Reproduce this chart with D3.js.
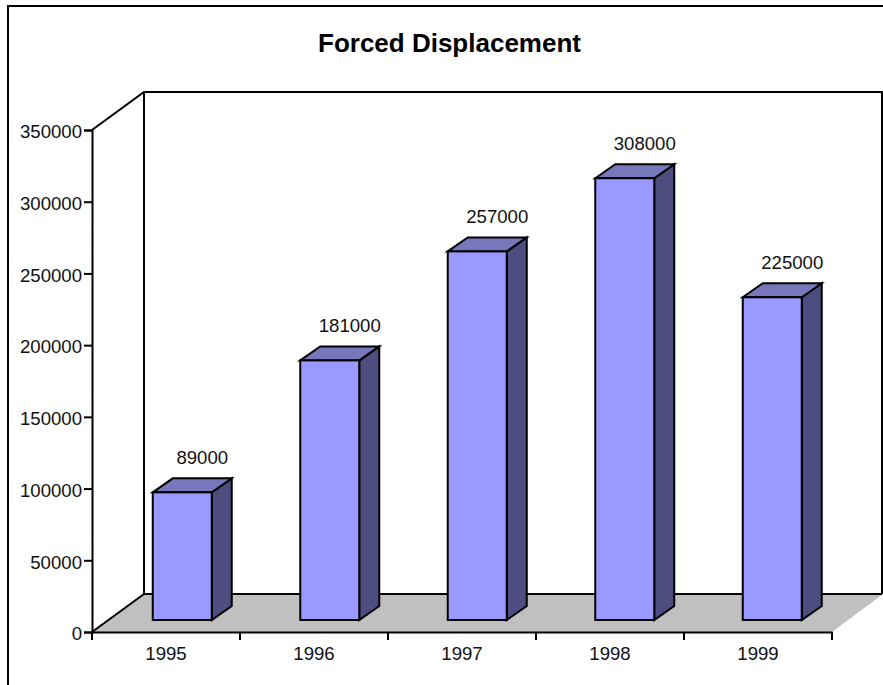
<!DOCTYPE html>
<html><head><meta charset="utf-8">
<script src="https://cdn.jsdelivr.net/npm/d3@7/dist/d3.min.js"></script>
<style>html,body{margin:0;padding:0;background:#fff;overflow:hidden}svg{display:block}
text{font-family:"Liberation Sans",Arial,sans-serif;fill:#111}</style></head><body>
<svg id="c" width="883" height="685"></svg>
<script>
const chartTitle = "Forced Displacement";
const years = ["1995","1996","1997","1998","1999"];
const displaced = [89000,181000,257000,308000,225000];
const yTicks = [0,50000,100000,150000,200000,250000,300000,350000];

const svg = d3.select("#c");
const L=92,R=832,B=632,T=130,DX=52,DY=38;   // front plane + floor depth
const BDX=20,BDY=14,BASE=12;                // bar depth + inset
const FS=18.6;
const y = d3.scaleLinear().domain([0,350000]).range([B,T]);
const x = d3.scaleBand().domain(years).range([L,R]);
const bx = d3.scaleBand().domain(years).range([108.5,846]).paddingInner(0.6).paddingOuter(0.3);
const line = d3.line();
function path(pts,fill,stroke=true){
  const p = svg.append("path").attr("d",line(pts)+"Z").attr("fill",fill);
  if(stroke) p.attr("stroke","#000").attr("stroke-width",2).attr("stroke-linejoin","miter");
  else p.attr("stroke","none");
  return p;
}
function seg(pts){svg.append("path").attr("d",line(pts)).attr("fill","none").attr("stroke","#000").attr("stroke-width",2);}

// outer frame
seg([[8,685],[8,6],[883,6]]);

// floor and walls
path([[L,B],[L+DX,B-DY],[R+DX-1,B-DY],[R,B]],"#C0C0C0",false);
seg([[L,B],[L+DX,B-DY]]);
seg([[L+DX,B-DY],[R+50,B-DY]]);
seg([[L,T],[L+DX,T-DY],[R+50,T-DY],[R+50,B-DY]]);
seg([[L+DX,T-DY],[L+DX,B-DY]]);

// axes
const ya = d3.axisLeft(y).tickValues(yTicks).tickSize(8).tickPadding(2).tickFormat(d3.format("d"));
const gy = svg.append("g").attr("transform",`translate(${L},0)`).call(ya);
const xa = d3.axisBottom(x).tickSize(0).tickPadding(15);
const gx = svg.append("g").attr("transform",`translate(0,${B})`).call(xa);
[gy,gx].forEach(g=>{g.selectAll(".domain").attr("stroke","#000").attr("stroke-width",2);
  g.selectAll(".tick line").attr("stroke","#000").attr("stroke-width",2);
  g.attr("font-family",null).attr("font-size",null);
  g.selectAll("text").attr("font-size",FS).attr("fill","#111");});
gy.selectAll(".tick text").attr("dy","0.42em");
gx.selectAll(".tick text").attr("dy","0.68em");
const xEdges = years.map(d=>x(d)).concat([R]);
gx.selectAll(".edge").data(xEdges).join("line").attr("class","edge")
  .attr("x1",d=>d).attr("x2",d=>d).attr("y1",0).attr("y2",8).attr("stroke","#000").attr("stroke-width",2);

// bars
years.forEach((yr,i)=>{
  const v=displaced[i], x0=bx(yr), x1=x0+bx.bandwidth(), yt=y(v)-BASE, yb=y(0)-BASE;
  path([[x1,yt],[x1+BDX,yt-BDY],[x1+BDX,yb-BDY],[x1,yb]],"#4D4D80");
  path([[x0,yt],[x0+BDX,yt-BDY],[x1+BDX,yt-BDY],[x1,yt]],"#7777BB");
  svg.append("rect").attr("x",x0).attr("y",yt).attr("width",x1-x0).attr("height",yb-yt)
    .attr("fill","#9999FF").attr("stroke","#000").attr("stroke-width",2);
  svg.append("text").attr("x",(x0+x1)/2+BDX).attr("y",yt-BDY-14).attr("text-anchor","middle")
    .attr("font-size",FS).text(d3.format("d")(v));
});

// title
svg.append("text").attr("x",449.5).attr("y",52).attr("text-anchor","middle")
  .attr("font-size",26).attr("font-weight","bold").style("fill","#000").text(chartTitle);
</script></body></html>
